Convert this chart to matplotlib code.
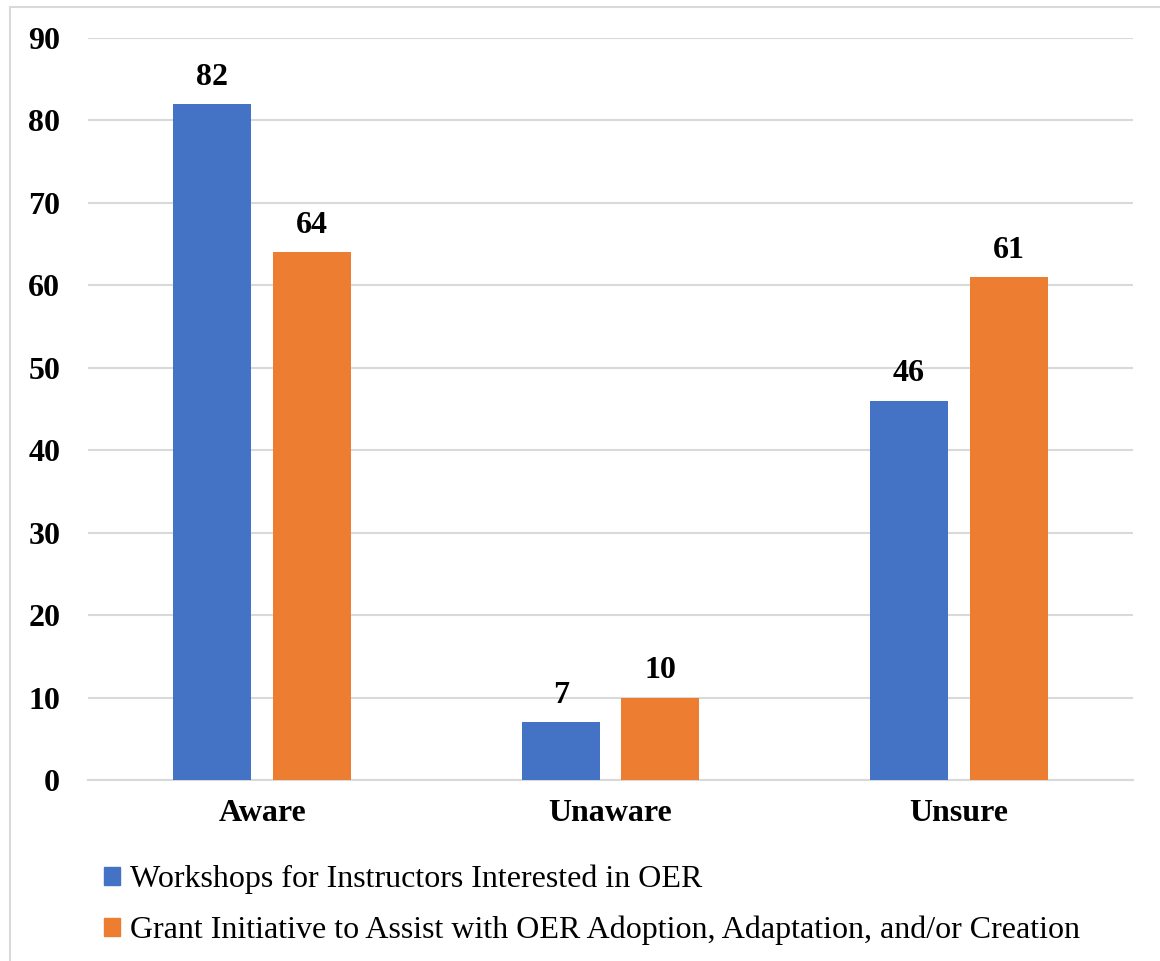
import matplotlib
matplotlib.use("Agg")
import matplotlib.pyplot as plt
import numpy as np
from matplotlib.patches import Rectangle

categories = ["Aware", "Unaware", "Unsure"]
series_names = [
    "Workshops for Instructors Interested in OER",
    "Grant Initiative to Assist with OER Adoption, Adaptation, and/or Creation",
]
workshops = [82, 7, 46]
grants = [64, 10, 61]
y_ticks = [0, 10, 20, 30, 40, 50, 60, 70, 80, 90]

colors = ["#4472C4", "#ED7D31"]
plt.rcParams["font.family"] = ["Liberation Serif", "DejaVu Serif"]

W, H = 1160, 961
fig = plt.figure(figsize=(W / 100, H / 100), dpi=100)
ax = fig.add_axes([88 / W, 1 - 780 / H, (1133 - 88) / W, (780 - 38) / H])

x = np.arange(len(categories))
bw = 0.224
off = 0.143
b1 = ax.bar(x - off, workshops, bw, color=colors[0], label=series_names[0], zorder=3)
b2 = ax.bar(x + off, grants, bw, color=colors[1], label=series_names[1], zorder=3)

for bars, vals in ((b1, workshops), (b2, grants)):
    for rect, v in zip(bars, vals):
        ax.annotate(f"{v}", (rect.get_x() + rect.get_width() / 2, v),
                    xytext=(0, 14), textcoords="offset points",
                    ha="center", va="baseline", fontsize=23, fontweight="bold")

ax.set_xlim(-0.5, 2.5)
ax.set_ylim(0, 90)
ax.set_yticks(y_ticks)
ax.set_yticklabels([str(t) for t in y_ticks], fontsize=23, fontweight="bold")
ax.set_xticks(x)
ax.set_xticklabels(categories, fontsize=23, fontweight="bold")
ax.tick_params(axis="both", length=0)
ax.tick_params(axis="y", pad=20)
ax.tick_params(axis="x", pad=14)
ax.yaxis.grid(True, color="#D9D9D9", linewidth=1.5, zorder=0)
for s in ["left", "right", "top"]:
    ax.spines[s].set_visible(False)
ax.spines["bottom"].set_color("#D9D9D9")
ax.spines["bottom"].set_linewidth(1.5)
ax.set_axisbelow(True)

handles = [Rectangle((0, 0), 1, 1, color=c) for c in colors]
fig.legend(handles, series_names, loc="upper left",
           bbox_to_anchor=(91 / W, 1 - 852 / H), frameon=False,
           fontsize=23, handlelength=0.5, handleheight=0.5,
           handletextpad=0.31, labelspacing=0.67, borderaxespad=0)

fig.patches.append(Rectangle((10 / W, -0.01), 1.0, (H - 7) / H + 0.01,
                             transform=fig.transFigure, fill=False,
                             edgecolor="#D9D9D9", linewidth=1.5))

fig.savefig("out.png", dpi=100, facecolor="white")
